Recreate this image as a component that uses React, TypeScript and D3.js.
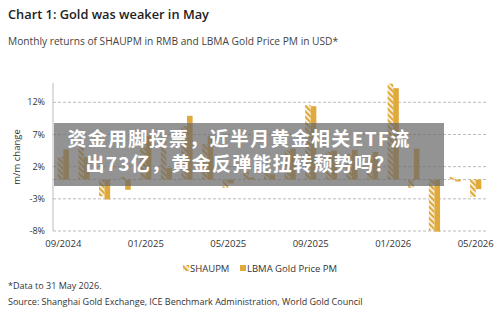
import React from "react";
import * as d3 from "d3";

const months = [
  "09/2024","10/2024","11/2024","12/2024","01/2025","02/2025","03/2025","04/2025",
  "05/2025","06/2025","07/2025","08/2025","09/2025","10/2025","11/2025","12/2025",
  "01/2026","02/2026","03/2026","04/2026","05/2026",
];
const shaupm = [3.5, 5.0, -2.6, 0.4, 5.2, 6.5, 8.3, 5.5, -1.3, 1.2, 1.5, 4.5, 11.6, 4.3, 4.0, 3.8, 14.9, -1.3, -7.9, 0.4, -2.7];
const lbma = [4.7, 3.5, -3.1, -1.6, 6.8, 1.8, 9.9, 6.8, -0.6, 0.3, 0.8, 4.8, 11.4, 4.5, 4.6, 4.3, 14.2, 4.8, -8.1, -0.3, -1.5];
const yTicks = [12, 7, 2, -3, -8];
const xTickLabels = ["09/2024", "01/2025", "05/2025", "09/2025", "01/2026", "05/2026"];
const seriesNames = ["SHAUPM", "LBMA Gold Price PM"];

const W = 500, H = 309;
const GOLD = "#E0A93C";
const FONT = "'Open Sans', 'Noto Sans', sans-serif";

export default function App() {
  const x = d3.scaleBand<string>().domain(months).range([53, 486]).padding(0);
  const y = d3.scaleLinear().domain([-8, 15]).range([231, 83]);
  const bw = 5.6;
  const y0 = y(0);

  return (
    <svg width={W} height={H} style={{ position: "absolute", left: 0, top: 0, background: "#fff" }} fontFamily={FONT}>
      <defs>
        <pattern id="hatch" patternUnits="userSpaceOnUse" width="4" height="4" patternTransform="rotate(-45)">
          <rect width="4" height="4" fill="#fff" />
          <rect width="2.4" height="4" fill={GOLD} />
        </pattern>
      </defs>
      <rect width={W} height={H} fill="#fff" />
      <text x={8} y={19} fontSize={12.8} fontWeight={600} fill="#222">Chart 1: Gold was weaker in May</text>
      <text x={8} y={45} fontSize={10.2} fill="#444">Monthly returns of SHAUPM in RMB and LBMA Gold Price PM in USD*</text>

      {yTicks.map((t) => (
        <g key={t}>
          <line x1={53} x2={486} y1={y(t)} y2={y(t)} stroke="#aaa" strokeWidth={0.8} strokeDasharray="3,2" />
          <text x={45} y={y(t)} dy="0.35em" fontSize={9} textAnchor="end" fill="#333">{t}%</text>
        </g>
      ))}
      <line x1={53} x2={486} y1={y0} y2={y0} stroke="#aaa" strokeWidth={0.8} strokeDasharray="3,2" />
      <line x1={53} x2={53} y1={83} y2={231} stroke="#aaa" strokeWidth={0.8} />
      <text transform={`translate(20,157) rotate(-90)`} fontSize={9.5} textAnchor="middle" fill="#333">m/m change</text>

      {months.map((m, i) => {
        const c = (x(m) as number) + x.bandwidth() / 2;
        const a = shaupm[i], b = lbma[i];
        return (
          <g key={m}>
            <rect x={c - bw} width={bw} y={Math.min(y(a), y0)} height={Math.abs(y(a) - y0)} fill="url(#hatch)" />
            <rect x={c} width={bw} y={Math.min(y(b), y0)} height={Math.abs(y(b) - y0)} fill={GOLD} />
          </g>
        );
      })}

      {xTickLabels.map((l) => (
        <text key={l} x={(x(l) as number) + x.bandwidth() / 2} y={247} fontSize={9.5} textAnchor="middle" fill="#333">{l}</text>
      ))}

      <g>
        <rect x={183} y={265} width={6} height={6} fill="url(#hatch)" />
        <text x={190} y={271.5} fontSize={9.5} fill="#333">{seriesNames[0]}</text>
        <rect x={240} y={265} width={6} height={6} fill={GOLD} />
        <text x={247} y={271.5} fontSize={9.5} fill="#333">{seriesNames[1]}</text>
      </g>

      <text x={8} y={289} fontSize={9} fill="#333">*Data to 31 May 2026.</text>
      <text x={8} y={305} fontSize={9} fill="#333">Source: Shanghai Gold Exchange, ICE Benchmark Administration, World Gold Council</text>

      <rect x={54} y={123} width={390} height={63} fill="rgba(105,105,105,0.72)" />
      <g fontFamily="'Noto Sans CJK SC', sans-serif" fontWeight={700} fontSize={19} fill="#fff" textAnchor="middle" letterSpacing={1.3}>
        <text x={239} y={146}>资金用脚投票，近半月黄金相关ETF流</text>
        <text x={240} y={171}>出73亿，黄金反弹能扭转颓势吗？</text>
      </g>
    </svg>
  );
}
